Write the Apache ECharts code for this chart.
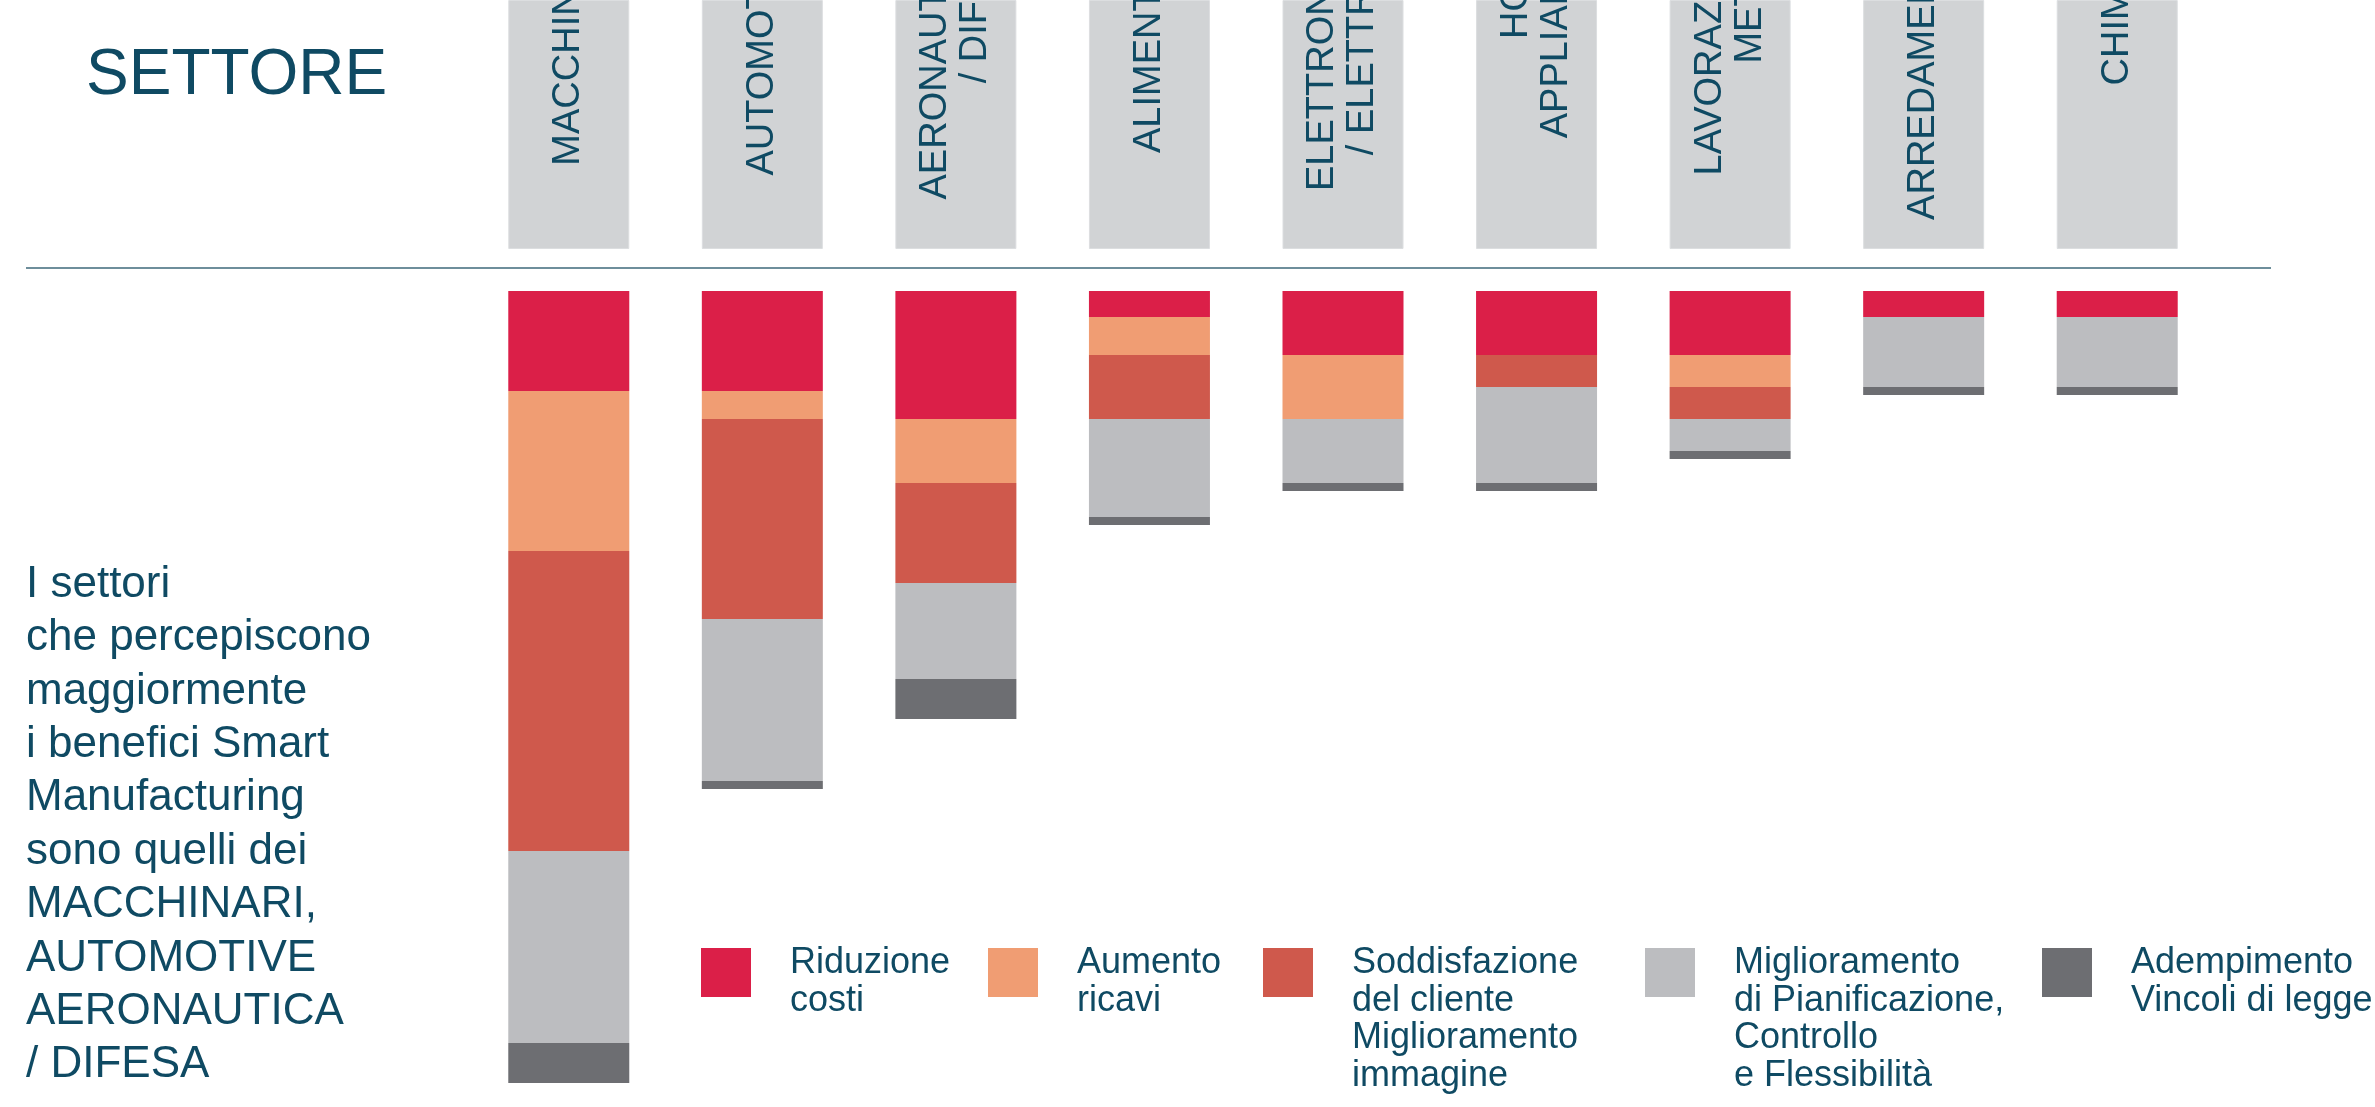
<!DOCTYPE html>
<html>
<head>
<meta charset="utf-8">
<title>Settore - benefici Smart Manufacturing</title>
<script src="https://cdn.jsdelivr.net/npm/echarts@6/dist/echarts.min.js"></script>
<style>
    html, body { margin: 0; padding: 0; background: #fff; }
    #chart { width: 2375px; height: 1107px; }
</style>
</head>
<body>
<div id="chart"></div>
<script>
//settori (colonne)
var settori = ['MACCHINARI', 'AUTOMOTIVE', 'AERONAUTICA\n/ DIFESA', 'ALIMENTARE', 'ELETTRONICA\n/ ELETTRICA',
    'HOME\nAPPLIANCE', 'LAVORAZIONE\nMETALLI', 'ARREDAMENTO', 'CHIMICA'];

//benefici percepiti, un array per voce
var riduzioneCosti = [25, 25, 32, 6.5, 16, 16, 16, 6.5, 6.5];
var aumentoRicavi = [40, 7, 16, 9.5, 16, 0, 8, 0, 0];
var soddisfazioneCliente = [75, 50, 25, 16, 0, 8, 8, 0, 0];
var miglioramentoPianificazione = [48, 40.5, 24, 24.5, 16, 24, 8, 17.5, 17.5];
var adempimentoVincoli = [10, 2, 10, 2, 2, 2, 2, 2, 2];

var nomiBenefici = [
    'Riduzione\ncosti',
    'Aumento\nricavi',
    'Soddisfazione\ndel cliente\nMiglioramento\nimmagine',
    'Miglioramento\ndi Pianificazione,\nControllo\ne Flessibilità',
    'Adempimento\nVincoli di legge'
];

//testo a sinistra
var testoLaterale = ['I settori', 'che percepiscono', 'maggiormente', 'i benefici Smart', 'Manufacturing',
    'sono quelli dei', 'MACCHINARI,', 'AUTOMOTIVE', 'AERONAUTICA', '/ DIFESA'];

var colori = ['#db1f48', '#f09d73', '#cf594c', '#bcbdc0', '#6d6e72'];
var blu = '#0f4a63';
var font = '"Liberation Sans", Arial, Helvetica, sans-serif';

//spostamento verso l'alto delle etichette di intestazione (px)
var alzaEtichetta = [0, 0, 0, 12, 0, 0, 17, 0, 0];

var chart = echarts.init(document.getElementById('chart'));

var serie = [riduzioneCosti, aumentoRicavi, soddisfazioneCliente, miglioramentoPianificazione, adempimentoVincoli]
    .map(function(valori, i) {
        return {
            name: nomiBenefici[i],
            type: 'bar',
            stack: 'benefici',
            xAxisIndex: 0,
            yAxisIndex: 0,
            barWidth: 121,
            silent: true,
            data: valori,
            itemStyle: { color: colori[i] }
        };
    });

//riquadri grigi con il nome del settore (testo che esce in alto)
serie.push({
    name: 'settore',
    type: 'bar',
    xAxisIndex: 1,
    yAxisIndex: 1,
    barWidth: 121,
    silent: true,
    data: settori.map(function(s, i) {
        return { value: 1, label: { distance: -75 - alzaEtichetta[i] } };
    }),
    itemStyle: { color: '#d1d3d5', borderColor: '#dcdee0', borderWidth: 1 },
    label: {
        show: true,
        position: 'insideTop',
        distance: -75,
        rotate: 90,
        align: 'right',
        verticalAlign: 'middle',
        formatter: function(p) { return p.name; },
        fontSize: 38,
        lineHeight: 40,
        color: blu,
        fontFamily: font
    }
});

//legenda: un blocco per voce, testo allineato in alto al quadrato
var legendaX = [701, 988, 1263, 1645, 2042];
var legende = nomiBenefici.map(function(nome, i) {
    return {
        data: [nome],
        left: legendaX[i],
        top: 850.25,
        padding: 0,
        icon: 'rect',
        itemWidth: 50,
        itemHeight: 49,
        selectedMode: false,
        formatter: function(n) {
            var righe = n.split('\n');
            while (righe.length < 4) righe.push(' ');
            return '{s|}\n' + righe.map(function(r) { return '{t|' + r + '}'; }).join('\n');
        },
        textStyle: {
            fontSize: 36,
            color: blu,
            fontFamily: font,
            padding: [0, 0, 0, 34],
            rich: {
                s: { height: 94.5, lineHeight: 94.5 },
                t: { fontSize: 36, lineHeight: 37.5, color: blu, fontFamily: font }
            }
        }
    };
});

chart.setOption({
    animation: false,
    backgroundColor: '#fff',
    grid: [
        { left: 472, right: 161, top: 291, height: 800 },
        { left: 472, right: 161, top: 0, height: 249 }
    ],
    xAxis: [
        { type: 'category', gridIndex: 0, data: settori, show: false },
        { type: 'category', gridIndex: 1, data: settori, show: false }
    ],
    yAxis: [
        { type: 'value', gridIndex: 0, inverse: true, min: 0, max: 200, show: false },
        { type: 'value', gridIndex: 1, min: 0, max: 1, show: false }
    ],
    legend: legende,
    graphic: [
        {
            type: 'text',
            left: 86,
            top: 44,
            style: { text: 'SETTORE', fontSize: 64, fill: blu, fontFamily: font }
        },
        {
            type: 'line',
            shape: { x1: 26, y1: 268, x2: 2271, y2: 268 },
            style: { stroke: '#6e8e9b', lineWidth: 2 }
        },
        {
            type: 'text',
            left: 26,
            top: 558,
            style: { text: testoLaterale.join('\n'), fontSize: 44, lineHeight: 53.4, fill: blu, fontFamily: font }
        }
    ],
    series: serie
});
</script>
</body>
</html>
